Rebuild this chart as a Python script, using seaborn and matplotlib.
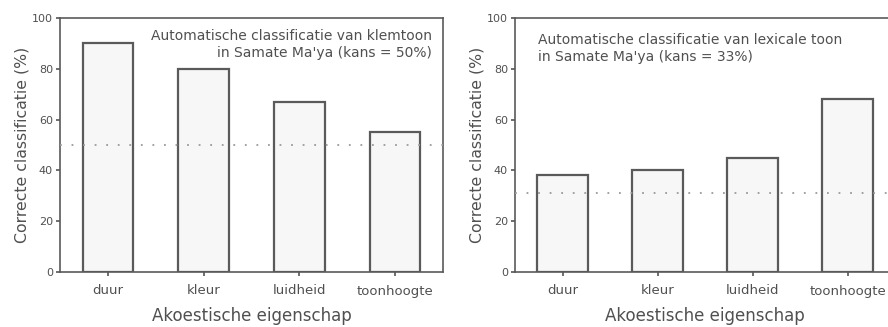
import matplotlib
matplotlib.use("Agg")
import matplotlib.pyplot as plt
import seaborn as sns
import pandas as pd

# Data
kenmerken = ["duur", "kleur", "luidheid", "toonhoogte"]
klemtoon_pct = [90, 80, 67, 55]
lexicale_toon_pct = [38, 40, 45, 68]
kans_klemtoon = 50
kans_toon = 31

titel_links = "Automatische classificatie van klemtoon\nin Samate Ma'ya (kans = 50%)"
titel_rechts = "Automatische classificatie van lexicale toon\nin Samate Ma'ya (kans = 33%)"

sns.set_theme(style="ticks")
plt.rcParams["font.family"] = ["DejaVu Sans"]

GRIJS = "#5a5a5a"
TEKST = "#505050"

fig = plt.figure(figsize=(8.88, 3.27), dpi=100)
ax1 = fig.add_axes([60 / 888, 55 / 327, 383 / 888, 254 / 327])
ax2 = fig.add_axes([515 / 888, 55 / 327, 380 / 888, 254 / 327])


def teken_paneel(ax, waarden, kans, titel, links):
    df = pd.DataFrame({"kenmerk": kenmerken, "pct": waarden})
    sns.barplot(data=df, x="kenmerk", y="pct", ax=ax, color="#f7f7f7",
                edgecolor=GRIJS, linewidth=1.6, width=0.53, saturation=1)
    # kanslijn loopt over de staven heen
    ax.axhline(kans, color="#9a9a9a", linestyle=(0, (1, 5.4)), linewidth=1.3, zorder=5)
    ax.set_xlim(-0.5, 3.5)
    ax.set_ylim(0, 100)
    ax.set_yticks(range(0, 101, 20))
    ax.set_xlabel("Akoestische eigenschap", fontsize=12, color=TEKST, labelpad=7)
    ax.set_ylabel("Correcte classificatie (%)", fontsize=11.3, color=TEKST, labelpad=2)
    ax.tick_params(axis="both", which="major", direction="out", length=3, width=1.2,
                   color="#555555", labelcolor=TEKST, labelsize=8, pad=2,
                   bottom=True, left=True, top=False, right=False)
    ax.tick_params(axis="x", labelsize=9.5, pad=6)
    for s in ax.spines.values():
        s.set_visible(True)
        s.set_color(GRIJS)
        s.set_linewidth(1.2)
    if links:
        ax.text(0.97, 0.955, titel, transform=ax.transAxes, ha="right", va="top",
                fontsize=10, color=TEKST, linespacing=1.25)
    else:
        ax.text(0.06, 0.94, titel, transform=ax.transAxes, ha="left", va="top",
                fontsize=10, color=TEKST, linespacing=1.25)


teken_paneel(ax1, klemtoon_pct, kans_klemtoon, titel_links, True)
teken_paneel(ax2, lexicale_toon_pct, kans_toon, titel_rechts, False)

fig.savefig("out.png", dpi=100)
